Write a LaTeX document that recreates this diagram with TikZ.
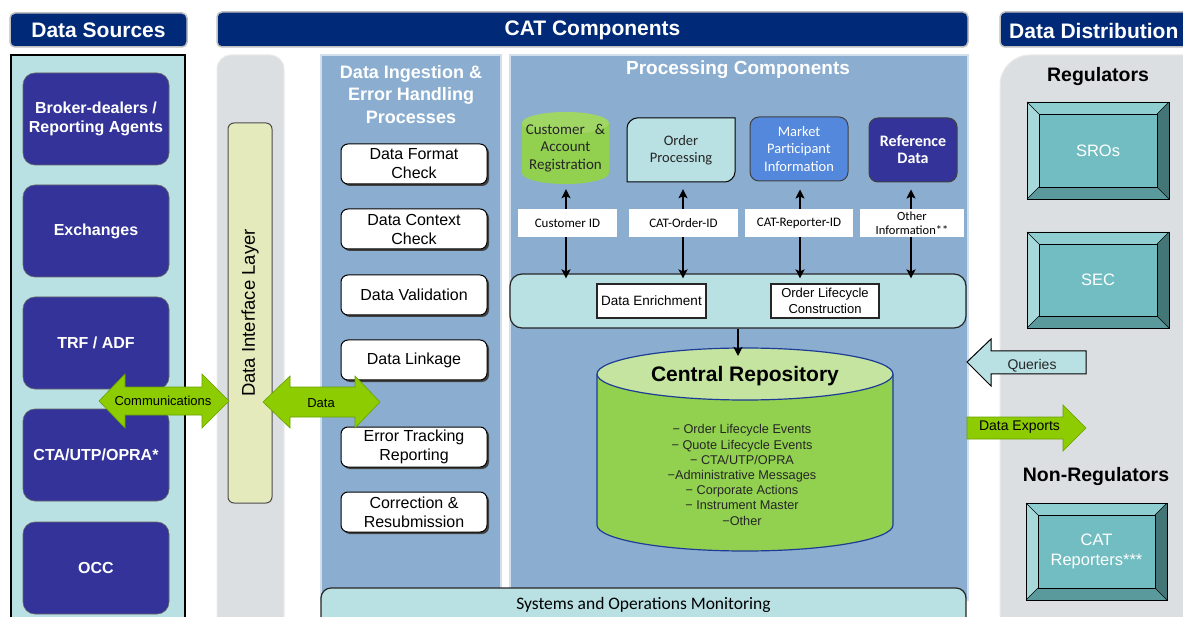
\documentclass[tikz,border=0pt]{standalone}
\usepackage{fontspec}
\setmainfont{Liberation Sans}
\newfontfamily\calfont{Carlito}
\usetikzlibrary{arrows.meta,shadows,calc}
\definecolor{navy}{RGB}{0,42,120}
\definecolor{srcblue}{RGB}{51,51,153}
\definecolor{paleCyan}{RGB}{185,224,227}
\definecolor{steel}{RGB}{139,174,208}
\definecolor{lgray}{RGB}{220,223,226}
\definecolor{dilfill}{RGB}{228,234,188}
\definecolor{catlime}{RGB}{140,204,0}
\definecolor{limeedge}{RGB}{105,160,0}
\definecolor{cylgreen}{RGB}{146,208,80}
\definecolor{cyltop}{RGB}{196,228,160}
\definecolor{custtop}{RGB}{160,214,100}
\definecolor{mpiblue}{RGB}{84,136,220}
\definecolor{bevmid}{RGB}{113,189,194}
\definecolor{bevtop}{RGB}{142,205,208}
\definecolor{bevleft}{RGB}{168,217,218}
\definecolor{bevright}{RGB}{69,118,119}
\definecolor{bevbot}{RGB}{91,154,156}
\definecolor{crline}{RGB}{30,60,150}
\tikzset{
  hdr/.style={fill=navy, draw=black!25, line width=1.5pt, rounded corners=5pt},
  hdrtext/.style={text=white, font=\bfseries\fontsize{21}{24}\selectfont, inner sep=0pt},
  src/.style={fill=srcblue, draw=black!60, line width=0.6pt, rounded corners=12pt,
    minimum width=146pt, minimum height=92pt, text=white, align=center,
    font=\bfseries\fontsize{16}{18.5}\selectfont, inner sep=0pt},
  ingbox/.style={fill=white, draw=black, line width=1pt, rounded corners=7pt,
    minimum width=146pt, minimum height=40pt, align=center,
    font=\fontsize{16}{19}\selectfont, inner sep=0pt,
    drop shadow={shadow xshift=2pt, shadow yshift=-2pt, fill=black!75, opacity=1}},
  lbl/.style={fill=white, minimum height=28pt, align=center,
    font=\calfont\fontsize{13}{15}\selectfont, inner sep=0pt},
  topbox/.style={minimum width=#1, minimum height=64pt, inner sep=0pt, align=center},
  dbl/.style={{Stealth[length=9pt,width=9pt,inset=2pt]}-{Stealth[length=9pt,width=9pt,inset=2pt]}, line width=2.8pt},
  sgl/.style={-{Stealth[length=9pt,width=9pt,inset=2pt]}, line width=2.8pt},
  garrow/.style={fill=catlime, draw=limeedge, line width=0.6pt},
  bevtext/.style={text=white, align=center, font=\fontsize{16.5}{20}\selectfont, inner sep=0pt},
  subhead/.style={font=\bfseries\fontsize{19.5}{22}\selectfont, inner sep=0pt},
  whitehead/.style={text=white, align=center, font=\bfseries\fontsize{18}{22.5}\selectfont, inner sep=0pt},
  smalltxt/.style={font=\fontsize{13}{15}\selectfont, inner sep=0pt}
}
\newcommand\bevelbox[6]{%
  \coordinate (#1-TL) at (#2,#3); \coordinate (#1-TR) at (#4,#3);
  \coordinate (#1-BR) at (#4,#5); \coordinate (#1-BL) at (#2,#5);
  \coordinate (#1-iTL) at (#2+12,#3+12); \coordinate (#1-iTR) at (#4-12,#3+12);
  \coordinate (#1-iBR) at (#4-12,#5-12); \coordinate (#1-iBL) at (#2+12,#5-12);
  \fill[bevtop] (#1-TL) -- (#1-TR) -- (#1-iTR) -- (#1-iTL) -- cycle;
  \fill[bevleft] (#1-TL) -- (#1-iTL) -- (#1-iBL) -- (#1-BL) -- cycle;
  \fill[bevright] (#1-TR) -- (#1-BR) -- (#1-iBR) -- (#1-iTR) -- cycle;
  \fill[bevbot] (#1-BL) -- (#1-iBL) -- (#1-iBR) -- (#1-BR) -- cycle;
  \draw[line width=0.8pt] (#1-TL) rectangle (#1-BR);
  \draw[line width=0.8pt, fill=bevmid] (#1-iTL) rectangle (#1-iBR);
  \draw[line width=0.5pt] (#1-TL) -- (#1-iTL) (#1-TR) -- (#1-iTR) (#1-BL) -- (#1-iBL) (#1-BR) -- (#1-iBR);
  \node[bevtext] (#1) at ($(#1-TL)!0.5!(#1-BR)$) {#6};
}
\begin{document}
\begin{tikzpicture}[x=1pt,y=-1pt]
\useasboundingbox (0,0) rectangle (1183,617);
\fill[white] (0,0) rectangle (1183,617);

% ---------- headers ----------
\draw[hdr] (10,13) rectangle (187,47);
\node[hdrtext] (dsh) at (98.5,30.5) {Data Sources};
\draw[hdr] (217,12) rectangle (968,47);
\node[hdrtext] (cath) at (592.5,30) {CAT Components};
\draw[hdr] (1000,12) rectangle (1205,47);
\node[hdrtext, anchor=west] (ddh) at (1009,30.5) {Data Distribution};

% ---------- panels ----------
\draw[fill=paleCyan, line width=1.3pt] (11,55) rectangle (185,640);
\draw[fill=lgray, draw=black!8, line width=1pt, rounded corners=14pt] (217,55) rectangle (284,640);
\draw[fill=steel, draw=white!60!steel, line width=1.2pt] (321,55) rectangle (501,600);
\draw[fill=steel, draw=white!60!steel, line width=1.2pt] (510,55) rectangle (968,600);
\draw[fill=lgray, draw=black!8, line width=1pt, rounded corners=30pt] (1000,55) rectangle (1220,650);

% ---------- data sources ----------
\node[src] (brk) at (96,119) {Broker-dealers /\\Reporting Agents};
\node[src] (exc) at (96,231) {Exchanges};
\node[src] (trf) at (96,343) {TRF / ADF};
\node[src] (cta) at (96,455) {CTA/UTP/OPRA*};
\node[src] (occ) at (96,568) {OCC};

% ---------- data interface layer ----------
\node[fill=dilfill, draw=black!70, line width=1pt, rounded corners=6pt,
      minimum width=44pt, minimum height=380pt, inner sep=0pt] (dil) at (250,313) {};
\node[rotate=90, font=\fontsize{18.5}{20}\selectfont, inner sep=0pt] (diltext) at (dil.center) {Data Interface Layer};

% ---------- ingestion ----------
\node[whitehead] (ingt) at (411,94.5) {Data Ingestion \&\\Error Handling\\Processes};
\node[ingbox] (fmt) at (414,164) {Data Format\\Check};
\node[ingbox] (ctx) at (414,229) {Data Context\\Check};
\node[ingbox] (val) at (414,295) {Data Validation};
\node[ingbox] (lnk) at (414,360) {Data Linkage};
\node[ingbox] (err) at (414,447) {Error Tracking\\Reporting};
\node[ingbox] (cor) at (414,512) {Correction \&\\Resubmission};

% ---------- processing ----------
\node[text=white, font=\bfseries\fontsize{19}{22}\selectfont, inner sep=0pt] (proct) at (738,70) {Processing Components};

% customer cylinder
\fill[cylgreen] (522,123) -- (522,173) arc[start angle=180,end angle=0,x radius=43.5,y radius=11] -- (609,123) -- cycle;
\fill[custtop] (565.5,123) ellipse[x radius=43.5,y radius=11];
\node[topbox=87pt, minimum height=72pt, text=black!85, font=\calfont\fontsize{15}{17.5}\selectfont] (cust) at (565.5,148) {Customer\ \ \ \&\\Account\\Registration};

% order processing
\draw[fill=paleCyan, line width=1pt] (627,182) -- (627,128) .. controls (627,122.5) and (632.5,118) .. (637,118)
  -- (735,118) -- (735,172) .. controls (735,177.5) and (729.5,182) .. (725,182) -- cycle;
\node[topbox=108pt, text=black!85, font=\calfont\fontsize{14.5}{17.5}\selectfont] (ord) at (681,150) {Order\\Processing};

\node[topbox=98pt, fill=mpiblue, draw=black!75, line width=1pt, rounded corners=9pt, text=white,
      font=\calfont\fontsize{14.5}{17.5}\selectfont] (mpi) at (799,149) {Market\\Participant\\Information};
\node[topbox=88pt, fill=srcblue, draw=black!75, line width=1pt, rounded corners=9pt, text=white,
      font=\calfont\bfseries\fontsize{16}{17}\selectfont] (ref) at (913,150) {Reference\\Data};

% enrichment bar
\node[fill=paleCyan, draw=black!85, line width=1.2pt, rounded corners=12pt,
      minimum width=456pt, minimum height=54pt, inner sep=0pt] (enr) at (738,301) {};
\node[fill=white, draw=black!85, line width=1.2pt, minimum width=109pt, minimum height=34pt,
      inner sep=0pt, font=\fontsize{13.5}{15}\selectfont] (dend) at (651.5,301) {Data Enrichment};
\node[fill=white, draw=black!85, line width=1.2pt, minimum width=108pt, minimum height=34pt,
      inner sep=0pt, align=center, font=\fontsize{13}{15.5}\selectfont] (olc) at (825,301) {Order Lifecycle\\Construction};

% vertical arrows
\draw[dbl, shorten <=5pt, shorten >=-5pt] (cust.south -| 566,0) -- (enr.north -| 566,0);
\draw[dbl, shorten <=7pt, shorten >=-5pt] (ord.south -| 683,0) -- (enr.north -| 683,0);
\draw[dbl, shorten <=8pt, shorten >=-5pt] (mpi.south -| 800,0) -- (enr.north -| 800,0);
\draw[dbl, shorten <=7pt, shorten >=-5pt] (ref.south -| 911,0) -- (enr.north -| 911,0);

\node[lbl, minimum width=99pt] (l1) at (567.5,223) {Customer ID};
\node[lbl, minimum width=109pt] (l2) at (683.5,223) {CAT-Order-ID};
\node[lbl, minimum width=108pt] (l3) at (799,223) {CAT-Reporter-ID};
\node[lbl, minimum width=104pt, font=\calfont\fontsize{12.5}{14.5}\selectfont] (l4) at (912,223) {Other\\Information**};

% central repository
\path[fill=cylgreen] (597,374) -- (597,525) arc[start angle=180,end angle=0,x radius=148,y radius=26] -- (893,374) -- cycle;
\draw[crline, line width=1.2pt] (597,374) -- (597,525) arc[start angle=180,end angle=0,x radius=148,y radius=26] -- (893,374);
\draw[crline, line width=1.2pt, fill=cyltop] (745,374) ellipse[x radius=148,y radius=26];
\node[font=\bfseries\fontsize{21}{24}\selectfont, inner sep=0pt] (cr) at (745,376) {Central Repository};
\node[align=center, text=black!85, font=\fontsize{12.7}{15.2}\selectfont, inner sep=0pt] (crlist) at (742,475)
  {−\ Order Lifecycle Events\\−\ Quote Lifecycle Events\\−\ CTA/UTP/OPRA\\−Administrative Messages\\−\ Corporate Actions\\−\ Instrument Master\\−Other};
\coordinate (crtop) at (738,356);
\draw[sgl] (enr.south) -- (crtop);

% systems monitoring
\draw[fill=paleCyan, draw=black!85, line width=1.2pt, rounded corners=10pt] (321,588) rectangle (966,650);
\node[font=\calfont\fontsize{17.5}{20}\selectfont, inner sep=0pt] (sysmon) at (643.5,605) {Systems and Operations Monitoring};

% ---------- data distribution ----------
\node[subhead] (regs) at (1098,77) {Regulators};
\bevelbox{sros}{1027}{102}{1169}{199}{SROs}
\bevelbox{sec}{1027}{232}{1169}{328}{SEC}
\node[subhead] (nonregs) at (1096,477) {Non-Regulators};
\bevelbox{catrep}{1026}{503}{1167}{600}{CAT\\Reporters***}

% ---------- block arrows ----------
\draw[garrow] (99,401) -- (125,374) -- (125,387) -- (202,387) -- (202,374) -- (229,401)
  -- (202,428) -- (202,415) -- (125,415) -- (125,428) -- cycle;
\node[smalltxt] (comm) at (163,401) {Communications};
\draw[garrow] (263,402) -- (290,376) -- (290,387) -- (355,387) -- (355,376) -- (380,402)
  -- (355,428) -- (355,417) -- (290,417) -- (290,428) -- cycle;
\node[smalltxt] (datat) at (321,403) {Data};

\draw[fill=paleCyan, draw=black, line width=1pt] (967,362) -- (991,339) -- (991,351) -- (1086,351)
  -- (1086,374) -- (991,374) -- (991,386) -- cycle;
\node[font=\fontsize{14}{16}\selectfont, inner sep=0pt, text=black!85] (qry) at (1032,366) {Queries};
\draw[garrow] (967,417) -- (1063,417) -- (1063,405) -- (1086,428) -- (1063,451) -- (1063,439) -- (967,439) -- cycle;
\node[font=\fontsize{14}{16}\selectfont, inner sep=0pt] (dexp) at (1019.5,427) {Data Exports};
\end{tikzpicture}
\end{document}
